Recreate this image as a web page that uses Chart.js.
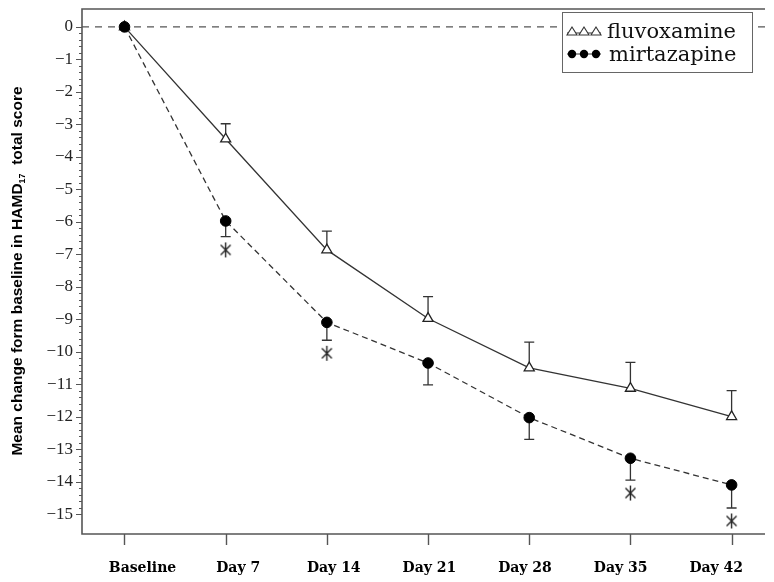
<!DOCTYPE html>
<html>
<head>
<meta charset="utf-8">
<script src="https://cdn.jsdelivr.net/npm/chart.js@4.4.1/dist/chart.umd.min.js"></script>
<style>
  html, body { margin: 0; padding: 0; background: #fff; }
  #wrap { width: 774px; height: 582px; }
</style>
</head>
<body>
<div id="wrap"><canvas id="c" width="774" height="582"></canvas></div>
<script>
// Visits and mean change from baseline in HAMD17 total score
const visits = ['Baseline', 'Day 7', 'Day 14', 'Day 21', 'Day 28', 'Day 35', 'Day 42'];
const fluvoxamine   = [0, -3.45, -6.86, -8.97, -10.49, -11.12, -11.99];
const fluvoxamineSE = [0, 0.47, 0.58, 0.67, 0.79, 0.80, 0.80];
const mirtazapine   = [0, -5.97, -9.09, -10.34, -12.02, -13.27, -14.09];
const mirtazapineSE = [0, 0.48, 0.55, 0.67, 0.67, 0.67, 0.71];
// significant differences between groups (asterisk positions)
const significance  = [null, -6.86, -10.04, null, null, -14.34, -15.2];
const yTickValues   = [0, -1, -2, -3, -4, -5, -6, -7, -8, -9, -10, -11, -12, -13, -14, -15];

const INK = '#333';
const AXIS = '#555';

function toPoints(arr) {
  return arr.map((v, i) => (v === null ? null : { x: i, y: v })).filter(p => p);
}

// six-armed asterisk marker
function makeAsterisk() {
  const c = document.createElement('canvas');
  c.width = 17; c.height = 17;
  const g = c.getContext('2d');
  g.strokeStyle = '#222';
  g.lineWidth = 1.4;
  g.beginPath();
  g.moveTo(8.5, 1); g.lineTo(8.5, 16);
  g.moveTo(3.5, 3.5); g.lineTo(13.5, 13.5);
  g.moveTo(13.5, 3.5); g.lineTo(3.5, 13.5);
  g.stroke();
  return c;
}

const framePlugin = {
  id: 'frame',
  beforeDatasetsDraw(chart) {
    const { ctx, chartArea: a, scales } = chart;
    const x = scales.x, y = scales.y;
    ctx.save();
    // dashed zero reference line
    ctx.strokeStyle = AXIS;
    ctx.lineWidth = 1.2;
    ctx.setLineDash([7, 6]);
    ctx.beginPath();
    ctx.moveTo(a.left, y.getPixelForValue(0));
    ctx.lineTo(a.right, y.getPixelForValue(0));
    ctx.stroke();
    ctx.setLineDash([]);

    // axis frame: left, bottom, top
    ctx.lineWidth = 1.6;
    ctx.beginPath();
    ctx.moveTo(a.right, a.top);
    ctx.lineTo(a.left, a.top);
    ctx.lineTo(a.left, a.bottom);
    ctx.lineTo(a.right, a.bottom);
    ctx.stroke();

    // y ticks: majors every 1, minors every 0.2
    ctx.lineWidth = 1;
    ctx.beginPath();
    for (let k = 0; k <= 75; k++) {
      const v = -k / 5;
      const py = Math.round(y.getPixelForValue(v)) + 0.5;
      const len = (k % 5 === 0) ? 6 : 3;
      ctx.moveTo(a.left - len, py);
      ctx.lineTo(a.left, py);
    }
    ctx.stroke();

    // x ticks
    ctx.lineWidth = 1.4;
    ctx.beginPath();
    visits.forEach((_, i) => {
      const px = Math.round(x.getPixelForValue(i)) + 0.5;
      ctx.moveTo(px, a.bottom);
      ctx.lineTo(px, a.bottom + 11);
    });
    ctx.stroke();

    // one-sided error bars (fluvoxamine up, mirtazapine down)
    ctx.strokeStyle = INK;
    ctx.lineWidth = 1.3;
    const bar = (i, from, to) => {
      const px = x.getPixelForValue(i);
      const p0 = y.getPixelForValue(from), p1 = y.getPixelForValue(to);
      ctx.beginPath();
      ctx.moveTo(px, p0); ctx.lineTo(px, p1);
      ctx.moveTo(px - 5, p1); ctx.lineTo(px + 5, p1);
      ctx.stroke();
    };
    fluvoxamine.forEach((v, i) => { if (fluvoxamineSE[i] > 0) bar(i, v, v + fluvoxamineSE[i]); });
    mirtazapine.forEach((v, i) => { if (mirtazapineSE[i] > 0) bar(i, v, v - mirtazapineSE[i]); });
    ctx.restore();
  },
  afterDraw(chart) {
    const { ctx, chartArea: a } = chart;
    ctx.save();

    // rotated y-axis title with subscript
    const main = 'bold 15.5px "Liberation Sans", Arial, sans-serif';
    const sub = 'bold 9px "Liberation Sans", Arial, sans-serif';
    const p1 = 'Mean change form baseline in HAMD', p2 = '17', p3 = '  total score';
    ctx.font = main; const w1 = ctx.measureText(p1).width, w3 = ctx.measureText(p3).width;
    ctx.font = sub; const w2 = ctx.measureText(p2).width;
    const total = w1 + w2 + w3;
    ctx.translate(22, 271);
    ctx.rotate(-Math.PI / 2);
    ctx.fillStyle = '#000';
    ctx.textBaseline = 'alphabetic';
    let cx = -total / 2;
    ctx.font = main; ctx.fillText(p1, cx, 0); cx += w1;
    ctx.font = sub; ctx.fillText(p2, cx, 3); cx += w2;
    ctx.font = main; ctx.fillText(p3, cx, 0);
    ctx.restore();

    // legend box
    ctx.save();
    const bx = 562, by = 12, bw = 190, bh = 60;
    ctx.fillStyle = '#fff';
    ctx.fillRect(bx, by, bw, bh);
    ctx.strokeStyle = '#666';
    ctx.lineWidth = 1;
    ctx.strokeRect(bx + 0.5, by + 0.5, bw, bh);

    // legend symbol rows
    ctx.strokeStyle = INK;
    ctx.lineWidth = 1.1;
    ctx.beginPath(); ctx.moveTo(567, 33); ctx.lineTo(601, 33); ctx.stroke();
    [572, 584, 596].forEach(tx => {
      ctx.beginPath();
      ctx.moveTo(tx, 27); ctx.lineTo(tx + 5, 35); ctx.lineTo(tx - 5, 35); ctx.closePath();
      ctx.fillStyle = '#fff'; ctx.fill(); ctx.stroke();
    });
    ctx.beginPath(); ctx.moveTo(567, 54); ctx.lineTo(601, 54); ctx.stroke();
    ctx.fillStyle = '#000';
    [572, 584, 596].forEach(cxp => {
      ctx.beginPath(); ctx.arc(cxp, 54, 4.2, 0, Math.PI * 2); ctx.fill();
    });

    ctx.fillStyle = '#111';
    ctx.font = '21px "DejaVu Serif", serif';
    ctx.textBaseline = 'alphabetic';
    ctx.fillText('fluvoxamine', 607, 38);
    ctx.fillText('mirtazapine', 609, 61);
    ctx.restore();
  }
};

new Chart(document.getElementById('c'), {
  type: 'line',
  data: {
    datasets: [
      {
        label: 'significance',
        data: toPoints(significance),
        showLine: false,
        pointStyle: makeAsterisk(),
        pointRadius: 8,
        order: 0
      },
      {
        label: 'mirtazapine',
        data: toPoints(mirtazapine),
        borderColor: INK,
        borderWidth: 1.3,
        borderDash: [6, 4],
        pointStyle: 'circle',
        pointRadius: 5.3,
        pointBackgroundColor: '#000',
        pointBorderColor: '#000',
        pointBorderWidth: 1,
        tension: 0,
        order: 1
      },
      {
        label: 'fluvoxamine',
        data: toPoints(fluvoxamine),
        borderColor: INK,
        borderWidth: 1.3,
        pointStyle: 'triangle',
        pointRadius: 5.8,
        pointBackgroundColor: '#fff',
        pointBorderColor: '#222',
        pointBorderWidth: 1.3,
        tension: 0,
        order: 2
      }
    ]
  },
  options: {
    responsive: false,
    animation: false,
    layout: { padding: { top: 7, right: 0, left: 0, bottom: 0 } },
    plugins: {
      legend: { display: false },
      tooltip: { enabled: false },
      title: { display: false }
    },
    scales: {
      x: {
        type: 'linear',
        min: -0.42,
        max: 6.33,
        display: false
      },
      // label axis for the visit names
      xLabels: {
        type: 'linear',
        position: 'bottom',
        min: -0.633,
        max: 6.51,
        grid: { display: false, drawTicks: false },
        border: { display: false },
        afterBuildTicks(scale) { scale.ticks = visits.map((_, i) => ({ value: i })); },
        afterFit(scale) { scale.height = 48; scale.paddingLeft = 0; scale.paddingRight = 0; },
        ticks: {
          autoSkip: false,
          maxRotation: 0,
          padding: 26,
          color: '#000',
          font: { family: "'DejaVu Serif', serif", weight: 'bold', size: 14 },
          callback: v => visits[v]
        }
      },
      y: {
        type: 'linear',
        min: -15.6,
        max: 0.55,
        grid: { display: false, drawTicks: false },
        border: { display: false },
        afterBuildTicks(scale) { scale.ticks = yTickValues.map(v => ({ value: v })); },
        afterFit(scale) { scale.width = 82; scale.paddingTop = 0; scale.paddingBottom = 0; },
        ticks: {
          autoSkip: false,
          padding: 9,
          color: '#222',
          font: { family: "'Liberation Serif', 'Times New Roman', Times, serif", size: 17 },
          callback: v => (v < 0 ? '\u2212' + Math.abs(v) : String(v))
        }
      }
    }
  },
  plugins: [framePlugin]
});
</script>
</body>
</html>
